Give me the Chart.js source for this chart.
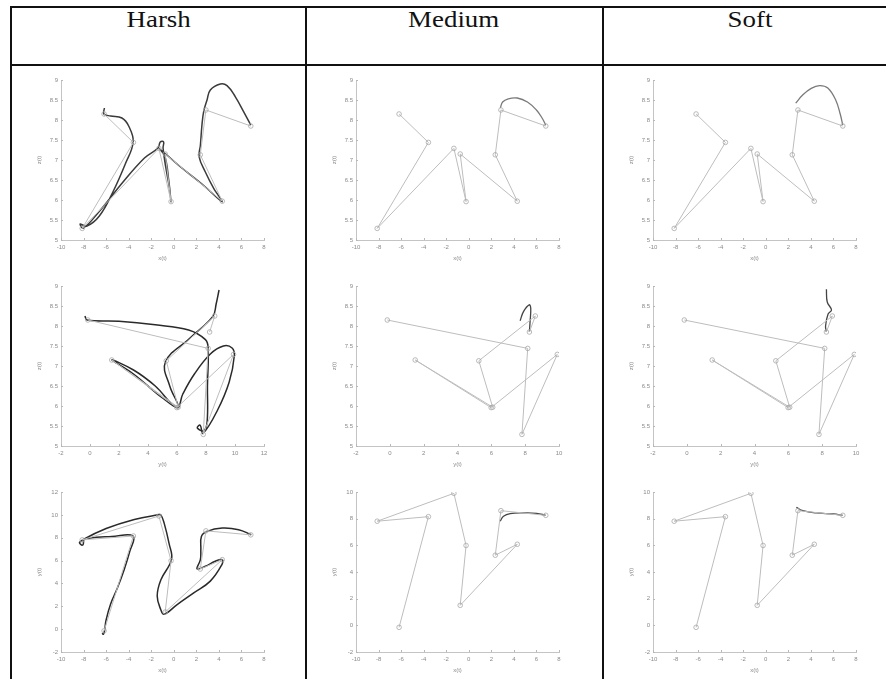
<!DOCTYPE html>
<html>
<head>
<meta charset="utf-8">
<script src="https://cdn.jsdelivr.net/npm/chart.js@4.4.0/dist/chart.umd.min.js"></script>
<style>
  body { margin: 0; background: #fff; width: 886px; height: 679px; overflow: hidden; position: relative; }
  .rule { position: absolute; background: #111; z-index: 2; }
  .head { position: absolute; top: 6px; height: 34px; line-height: 34px; text-align: center;
          font: 24px "Liberation Serif", "DejaVu Serif", serif; color: #111; }
  .head span { display: inline-block; transform: scaleX(1.12); }
  canvas { position: absolute; }
</style>
</head>
<body>
<script>
// column titles of the table
const colTitles = ['Harsh', 'Medium', 'Soft'];

// waypoints, in the order the path visits them
const wpX = [-6.18, -3.58, -8.12, -1.32, -0.24, -0.76, 4.30, 2.35, 2.85, 6.83];
const wpY = [-0.15, 8.15, 7.81, 9.90, 5.99, 1.50, 6.08, 5.26, 8.60, 8.25];
const wpZ = [8.15, 7.44, 5.29, 7.29, 5.96, 7.15, 5.97, 7.13, 8.25, 7.85];

// tick values
const xTicks = [-10, -8, -6, -4, -2, 0, 2, 4, 6, 8];
const zTicks = [5, 5.5, 6, 6.5, 7, 7.5, 8, 8.5, 9];
const yTicksHarsh = [-2, 0, 2, 4, 6, 8, 10, 12];
const yTicksSoft = [-2, 0, 2, 4, 6, 8, 10];

// harsh trajectory
const harshXZ = [[-6.15, 8.3], [-6.2, 8.15], [-5.6, 8.1], [-4.6, 8.05], [-4.0, 7.85], [-3.6, 7.45],
  [-4.3, 6.9], [-5.4, 6.2], [-6.6, 5.6], [-7.7, 5.35], [-8.3, 5.4], [-8.0, 5.3], [-6.5, 5.75],
  [-4.5, 6.45], [-2.6, 7.05], [-1.4, 7.3], [-1.2, 7.45], [-0.9, 7.45], [-0.95, 7.3], [-0.7, 6.8],
  [-0.38, 6.29], [-0.25, 5.96], [-0.45, 6.5], [-0.8, 7.1], [-1.35, 7.3], [0.5, 6.85], [2.5, 6.4],
  [4.28, 5.96], [3.54, 6.29], [2.8, 6.7], [2.25, 7.08], [2.36, 7.37], [2.5, 7.88], [2.65, 8.21],
  [2.95, 8.5], [3.24, 8.75], [4.13, 8.9], [4.72, 8.86], [5.46, 8.58], [6.19, 8.21], [6.83, 7.87]];
const harshYZ = [[-0.35, 8.25], [-0.2, 8.15], [2.0, 8.12], [4.5, 8.03], [6.8, 7.9], [7.96, 7.66],
  [8.15, 7.45], [8.1, 6.5], [8.08, 5.62], [7.85, 5.38], [7.4, 5.45], [7.6, 5.52], [7.8, 5.32],
  [8.8, 5.9], [9.6, 6.6], [9.95, 7.25], [9.8, 7.45], [9.2, 7.5], [8.3, 7.3], [7.2, 6.8], [6.4, 6.3],
  [6.0, 5.96], [4.5, 6.5], [3.0, 6.9], [1.5, 7.15], [3.0, 6.8], [5.0, 6.2], [6.08, 5.97], [5.5, 6.5],
  [5.2, 7.1], [6.9, 7.7], [8.47, 8.24], [8.7, 8.55], [8.9, 8.9]];
const harshXY = [[-6.35, -0.35], [-6.25, -0.45], [-6.15, -0.2], [-6.0, 0.8], [-5.6, 2.2], [-5.0, 3.6],
  [-4.4, 5.2], [-3.9, 6.8], [-3.6, 8.15], [-5.5, 8.1], [-7.5, 7.95], [-8.35, 7.6], [-8.1, 7.35],
  [-8.0, 7.7], [-8.1, 7.8], [-6.0, 8.8], [-3.5, 9.6], [-1.4, 10.0], [-1.15, 10.0], [-0.86, 9.3],
  [-0.42, 7.5], [-0.2, 6.1], [-1.15, 4.3], [-1.47, 2.9], [-1.15, 1.7], [-0.86, 1.3], [0.3, 2.15],
  [1.77, 3.17], [3.24, 4.2], [4.27, 5.65], [4.3, 6.08], [3.68, 5.94], [2.8, 5.5], [2.06, 5.27],
  [2.36, 6.08], [2.4, 7.0], [2.45, 8.1], [2.95, 8.55], [4.3, 8.84], [5.75, 8.7], [6.87, 8.26]];

// short end pieces of the medium and soft trajectories
const mediumXZ = [[2.8, 8.3], [3.0, 8.45], [3.5, 8.53], [4.3, 8.55], [5.2, 8.45], [6.0, 8.25], [6.5, 8.05], [6.83, 7.87]];
const softXZ = [[2.65, 8.42], [3.29, 8.63], [4.03, 8.79], [4.76, 8.86], [5.5, 8.8], [6.2, 8.5], [6.6, 8.15], [6.83, 7.87]];
const mediumYZ = [[7.7, 8.13], [7.9, 8.36], [8.24, 8.53], [8.33, 8.44], [8.29, 8.11], [8.25, 7.85]];
const softYZ = [[8.25, 8.92], [8.3, 8.6], [8.55, 8.4], [8.35, 8.3], [8.2, 8.0], [8.25, 7.85]];
const mediumXY = [[2.78, 7.81], [3.08, 8.18], [3.67, 8.38], [4.85, 8.43], [6.02, 8.4], [6.82, 8.25]];
const softXY = [[2.71, 8.85], [3.29, 8.6], [4.47, 8.43], [6.0, 8.35], [6.83, 8.25]];

const colLeft = [10, 305, 602];
const rowTop = [64, 270, 476];

const rows = [
  { xs: wpX, ys: wpZ, xt: xTicks, yt: zTicks, xl: 'x(t)', yl: 'z(t)',
    curves: [harshXZ, mediumXZ, softXZ], colors: ['#3a3a3a', '#7a7a7a', '#7a7a7a'] },
  { xs: wpY, ys: wpZ, xt: [yTicksHarsh, yTicksSoft, yTicksSoft], yt: zTicks, xl: 'y(t)', yl: 'z(t)',
    curves: [harshYZ, mediumYZ, softYZ], colors: ['#2a2a2a', '#444', '#444'] },
  { xs: wpX, ys: wpY, xt: xTicks, yt: [yTicksHarsh, yTicksSoft, yTicksSoft], xl: 'x(t)', yl: 'y(t)',
    curves: [harshXY, mediumXY, softXY], colors: ['#2a2a2a', '#444', '#444'] },
];

function addRule(x, y, w, h) {
  const d = document.createElement('div');
  d.className = 'rule';
  Object.assign(d.style, { left: x + 'px', top: y + 'px', width: w + 'px', height: h + 'px' });
  document.body.appendChild(d);
}

// MATLAB style ticks, drawn inside the axes
const inwardTicks = {
  id: 'inwardTicks',
  afterDraw(chart) {
    const { ctx, chartArea: a } = chart;
    ctx.save();
    ctx.strokeStyle = '#b8b8b8';
    ctx.lineWidth = 1;
    ctx.beginPath();
    chart.scales.x.ticks.forEach(t => {
      const px = Math.round(chart.scales.x.getPixelForValue(t.value)) + 0.5;
      ctx.moveTo(px, a.bottom); ctx.lineTo(px, a.bottom - 2);
    });
    chart.scales.y.ticks.forEach(t => {
      const py = Math.round(chart.scales.y.getPixelForValue(t.value)) + 0.5;
      ctx.moveTo(a.left, py); ctx.lineTo(a.left + 2, py);
    });
    ctx.stroke();
    ctx.restore();
  }
};

function pick(v, c) { return Array.isArray(v[0]) ? v[c] : v; }

function makePanel(r, c) {
  const row = rows[r];
  const canvas = document.createElement('canvas');
  canvas.width = 297; canvas.height = 206;
  canvas.style.left = colLeft[c] + 'px';
  canvas.style.top = rowTop[r] + 'px';
  document.body.appendChild(canvas);

  const xt = pick(row.xt, c), yt = pick(row.yt, c);
  const path = row.xs.map((v, i) => ({ x: v, y: row.ys[i] }));
  const curve = row.curves[c].map(p => ({ x: p[0], y: p[1] }));
  const tickFont = { family: 'Liberation Sans', size: 6 };

  new Chart(canvas, {
    type: 'scatter',
    data: {
      datasets: [
        { data: path, showLine: true, borderColor: '#bdbdbd', borderWidth: 1,
          pointRadius: 2.3, pointBorderColor: '#a8a8a8', pointBorderWidth: 0.8,
          pointBackgroundColor: 'rgba(0,0,0,0)', tension: 0 },
        { data: curve, showLine: true, borderColor: row.colors[c], borderWidth: c === 0 ? 1.5 : 1.3,
          pointRadius: 0, tension: 0.4 },
      ],
    },
    options: {
      responsive: false,
      animation: false,
      devicePixelRatio: 1,
      layout: { padding: { top: 16, right: 43, left: 0, bottom: 0 } },
      plugins: { legend: { display: false }, tooltip: { enabled: false } },
      scales: {
        x: {
          type: 'linear', min: xt[0], max: xt[xt.length - 1],
          afterBuildTicks: s => { s.ticks = xt.map(v => ({ value: v })); },
          afterFit: s => { s.height = 30; },
          ticks: { font: tickFont, color: '#8a8a8a', padding: 4, maxRotation: 0, callback: v => String(v) },
          grid: { drawOnChartArea: false, drawTicks: false },
          border: { color: '#c4c4c4', width: 1 },
          title: { display: true, text: row.xl, font: tickFont, color: '#8a8a8a', padding: { top: 0, bottom: 8 } },
        },
        y: {
          type: 'linear', min: yt[0], max: yt[yt.length - 1],
          afterBuildTicks: s => { s.ticks = yt.map(v => ({ value: v })); },
          afterFit: s => { s.width = 51; },
          ticks: { font: tickFont, color: '#8a8a8a', padding: 3, callback: v => String(v) },
          grid: { drawOnChartArea: false, drawTicks: false },
          border: { color: '#c4c4c4', width: 1 },
          title: { display: true, text: row.yl, font: tickFont, color: '#8a8a8a', padding: { top: 26, bottom: 0 } },
        },
      },
    },
    plugins: [inwardTicks],
  });
}

for (let r = 0; r < 3; r++) {
  for (let c = 0; c < 3; c++) makePanel(r, c);
}

colTitles.forEach((t, c) => {
  const d = document.createElement('div');
  d.className = 'head';
  const s = document.createElement('span');
  s.textContent = t;
  d.appendChild(s);
  d.style.left = colLeft[c] + 'px';
  d.style.width = '297px';
  document.body.appendChild(d);
});

// table rules
addRule(10, 6, 890, 1.5);
addRule(10, 64, 890, 1.5);
[10, 305, 602].forEach(x => addRule(x, 6, 1.5, 680));
</script>
</body>
</html>
